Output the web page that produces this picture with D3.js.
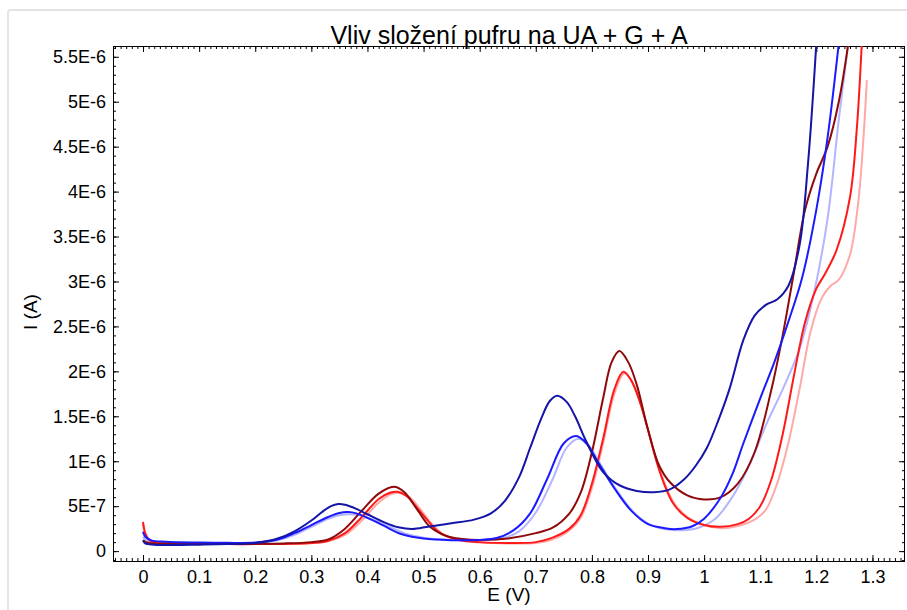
<!DOCTYPE html>
<html>
<head>
<meta charset="utf-8">
<script src="https://cdn.jsdelivr.net/npm/d3@7"></script>
<style>
  html, body { margin: 0; padding: 0; background: #fff; }
  svg { display: block; }
  text { font-family: "Liberation Sans", Arial, sans-serif; fill: #000; }
</style>
</head>
<body>
<svg id="chart" width="907" height="610"></svg>
<script>
// ---------- data (E in V, I in A) ----------
const chartTitle = "Vliv složení pufru na UA + G + A";
const xAxisTitle = "E (V)";
const yAxisTitle = "I (A)";

const xTickValues = [0, 0.1, 0.2, 0.3, 0.4, 0.5, 0.6, 0.7, 0.8, 0.9, 1, 1.1, 1.2, 1.3];
const xTickLabels = ["0", "0.1", "0.2", "0.3", "0.4", "0.5", "0.6", "0.7", "0.8", "0.9", "1", "1.1", "1.2", "1.3"];
const yTickValues = [0, 5e-7, 1e-6, 1.5e-6, 2e-6, 2.5e-6, 3e-6, 3.5e-6, 4e-6, 4.5e-6, 5e-6, 5.5e-6];
const yTickLabels = ["0", "5E-7", "1E-6", "1.5E-6", "2E-6", "2.5E-6", "3E-6", "3.5E-6", "4E-6", "4.5E-6", "5E-6", "5.5E-6"];

// currents below are in µA (×1e-6 A)
const pinkSeries = [[0,0.30],[0.005,0.17],[0.02,0.10],[0.05,0.085],[0.1,0.08],[0.15,0.078],[0.2,0.078],[0.25,0.08],[0.3,0.088],[0.33,0.11],[0.36,0.18],[0.39,0.34],[0.42,0.54],[0.44,0.63],[0.456,0.65],[0.475,0.60],[0.495,0.46],[0.515,0.30],[0.535,0.19],[0.56,0.125],[0.6,0.095],[0.65,0.085],[0.7,0.09],[0.73,0.13],[0.76,0.23],[0.78,0.37],[0.8,0.70],[0.82,1.20],[0.84,1.75],[0.858,1.98],[0.872,1.88],[0.888,1.62],[0.9,1.35],[0.92,0.92],[0.945,0.55],[0.97,0.38],[1.0,0.29],[1.03,0.255],[1.06,0.28],[1.09,0.35],[1.11,0.46],[1.13,0.75],[1.15,1.20],[1.17,1.80],[1.19,2.45],[1.21,2.82],[1.225,2.95],[1.24,3.02],[1.26,3.30],[1.275,3.90],[1.284,4.60],[1.29,5.24]];
const lightBlueSeries = [[0,0.16],[0.005,0.12],[0.02,0.09],[0.05,0.08],[0.1,0.08],[0.15,0.085],[0.2,0.09],[0.24,0.12],[0.27,0.18],[0.3,0.27],[0.33,0.36],[0.35,0.40],[0.37,0.41],[0.39,0.395],[0.41,0.35],[0.44,0.27],[0.47,0.19],[0.5,0.15],[0.55,0.125],[0.6,0.12],[0.64,0.14],[0.67,0.22],[0.7,0.43],[0.73,0.80],[0.755,1.15],[0.776,1.25],[0.795,1.17],[0.815,0.97],[0.845,0.67],[0.875,0.43],[0.905,0.29],[0.935,0.24],[0.96,0.232],[0.99,0.26],[1.02,0.36],[1.05,0.60],[1.08,0.95],[1.11,1.40],[1.14,1.80],[1.17,2.25],[1.195,2.85],[1.22,3.70],[1.24,4.80],[1.257,5.65]];
const redSeries = [[0,0.326],[0.004,0.20],[0.01,0.13],[0.02,0.10],[0.05,0.085],[0.1,0.08],[0.15,0.078],[0.2,0.078],[0.25,0.08],[0.3,0.09],[0.33,0.115],[0.36,0.20],[0.39,0.38],[0.42,0.58],[0.44,0.65],[0.454,0.66],[0.47,0.61],[0.49,0.47],[0.51,0.32],[0.53,0.20],[0.56,0.13],[0.6,0.10],[0.65,0.09],[0.7,0.10],[0.73,0.15],[0.76,0.25],[0.78,0.40],[0.8,0.75],[0.82,1.25],[0.84,1.80],[0.856,1.995],[0.87,1.90],[0.886,1.65],[0.9,1.35],[0.92,0.90],[0.945,0.53],[0.97,0.37],[1.0,0.29],[1.028,0.27],[1.06,0.30],[1.08,0.36],[1.1,0.50],[1.12,0.80],[1.14,1.30],[1.16,1.95],[1.18,2.55],[1.2,2.92],[1.215,3.08],[1.236,3.35],[1.26,3.94],[1.272,4.69],[1.281,5.65]];
const darkRedSeries = [[0,0.12],[0.005,0.10],[0.02,0.085],[0.05,0.08],[0.1,0.078],[0.15,0.078],[0.2,0.08],[0.25,0.085],[0.3,0.10],[0.33,0.13],[0.36,0.25],[0.39,0.45],[0.42,0.64],[0.447,0.716],[0.465,0.66],[0.49,0.45],[0.51,0.28],[0.54,0.17],[0.57,0.135],[0.6,0.125],[0.65,0.14],[0.7,0.20],[0.73,0.26],[0.76,0.42],[0.78,0.65],[0.8,1.10],[0.82,1.70],[0.835,2.10],[0.849,2.226],[0.865,2.10],[0.88,1.85],[0.9,1.35],[0.92,0.95],[0.94,0.76],[0.97,0.62],[1.0,0.575],[1.03,0.60],[1.06,0.75],[1.09,1.10],[1.12,1.80],[1.14,2.40],[1.16,3.10],[1.18,3.80],[1.2,4.20],[1.22,4.50],[1.24,5.00],[1.257,5.65]];
const blueSeries = [[0,0.215],[0.004,0.16],[0.015,0.12],[0.04,0.105],[0.1,0.095],[0.15,0.092],[0.2,0.095],[0.24,0.13],[0.27,0.20],[0.3,0.29],[0.33,0.38],[0.35,0.425],[0.366,0.434],[0.38,0.42],[0.4,0.37],[0.43,0.28],[0.46,0.19],[0.5,0.14],[0.55,0.122],[0.6,0.125],[0.63,0.145],[0.66,0.23],[0.69,0.42],[0.72,0.80],[0.75,1.20],[0.772,1.28],[0.79,1.20],[0.81,1.00],[0.84,0.70],[0.87,0.45],[0.9,0.30],[0.93,0.255],[0.951,0.245],[0.98,0.28],[1.0,0.36],[1.03,0.60],[1.05,0.85],[1.07,1.20],[1.1,1.70],[1.125,2.10],[1.15,2.55],[1.175,3.05],[1.2,3.80],[1.22,4.60],[1.24,5.65]];
const navySeries = [[0,0.12],[0.004,0.085],[0.02,0.072],[0.05,0.068],[0.1,0.072],[0.15,0.078],[0.2,0.09],[0.24,0.14],[0.27,0.22],[0.3,0.34],[0.32,0.44],[0.335,0.50],[0.348,0.523],[0.36,0.515],[0.38,0.47],[0.4,0.41],[0.43,0.32],[0.455,0.265],[0.48,0.245],[0.51,0.275],[0.55,0.31],[0.59,0.35],[0.62,0.42],[0.645,0.56],[0.67,0.82],[0.69,1.15],[0.71,1.48],[0.725,1.67],[0.738,1.728],[0.755,1.66],[0.77,1.50],[0.79,1.22],[0.82,0.88],[0.85,0.73],[0.88,0.67],[0.91,0.655],[0.94,0.69],[0.963,0.79],[0.985,0.95],[1.005,1.15],[1.025,1.45],[1.045,1.80],[1.07,2.35],[1.09,2.62],[1.11,2.74],[1.13,2.80],[1.15,2.95],[1.17,3.40],[1.185,4.30],[1.2,5.65]];

const seriesList = [
  { name: "pink",  data: pinkSeries,      color: "#ffa8a8" },
  { name: "lightblue", data: lightBlueSeries, color: "#b4b4ff" },
  { name: "red",   data: redSeries,       color: "#ff1a1a" },
  { name: "darkred", data: darkRedSeries, color: "#8e0a0a" },
  { name: "blue",  data: blueSeries,      color: "#1a1aff" },
  { name: "navy",  data: navySeries,      color: "#1414a8" }
];

// ---------- layout ----------
const svg = d3.select("#chart");
const L = 113, R = 905, T = 46, B = 561;

const x = d3.scaleLinear().domain([-0.0535, 1.358]).range([L, R]);
const y = d3.scaleLinear().domain([-1.1e-7, 5.62e-6]).range([B, T]);

// outer light frame
svg.append("rect")
  .attr("x", 8).attr("y", 10).attr("width", 920).attr("height", 620)
  .attr("rx", 3)
  .attr("fill", "none").attr("stroke", "#e4e4e4").attr("stroke-width", 2);

// clip
svg.append("defs").append("clipPath").attr("id", "plotclip")
  .append("rect").attr("x", L).attr("y", T).attr("width", R - L).attr("height", B - T);

// minor ticks
const xMinor = d3.range(-5, 136).map(i => i / 100).filter(v => x(v) > L && x(v) < R);
const yMinor = d3.range(-1, 57).map(i => i * 1e-7).filter(v => y(v) < B && y(v) > T);

const axesG = svg.append("g");

function minorAxis(axisFn, scale, values, size, tr) {
  const g = axesG.append("g").attr("transform", tr)
    .call(axisFn(scale).tickValues(values).tickSize(size).tickFormat(""));
  g.select(".domain").remove();
  g.selectAll("line").attr("stroke", "#000");
}
minorAxis(d3.axisBottom, x, xMinor, -3, `translate(0,${B})`);
minorAxis(d3.axisTop, x, xMinor, -3, `translate(0,${T})`);
minorAxis(d3.axisLeft, y, yMinor, -3, `translate(${L},0)`);
minorAxis(d3.axisRight, y, yMinor, -3, `translate(${R},0)`);

// major axes
const xAxisG = axesG.append("g").attr("transform", `translate(0,${B})`)
  .call(d3.axisBottom(x).tickValues(xTickValues).tickSize(-6).tickPadding(9)
    .tickFormat((d, i) => xTickLabels[i]));
const xTopG = axesG.append("g").attr("transform", `translate(0,${T})`)
  .call(d3.axisTop(x).tickValues(xTickValues).tickSize(-6).tickFormat(""));
const yAxisG = axesG.append("g").attr("transform", `translate(${L},0)`)
  .call(d3.axisLeft(y).tickValues(yTickValues).tickSize(-6).tickPadding(7)
    .tickFormat((d, i) => yTickLabels[i]));
const yRightG = axesG.append("g").attr("transform", `translate(${R},0)`)
  .call(d3.axisRight(y).tickValues(yTickValues).tickSize(-6).tickFormat(""));

[xAxisG, xTopG, yAxisG, yRightG].forEach(g => {
  g.select(".domain").remove();
  g.selectAll("line").attr("stroke", "#000");
  g.selectAll("text").attr("font-size", 18).attr("fill", "#000")
    .style("font-family", "'Liberation Sans', Arial, sans-serif");
});

// frame
svg.append("rect").attr("x", L + 0.5).attr("y", T + 0.5)
  .attr("width", R - L - 1).attr("height", B - T)
  .attr("fill", "none").attr("stroke", "#000").attr("stroke-width", 1);

// lines
const line = d3.line()
  .x(d => x(d[0]))
  .y(d => y(d[1] * 1e-6))
  .curve(d3.curveCatmullRom.alpha(0.5));

const linesG = svg.append("g").attr("clip-path", "url(#plotclip)");
seriesList.forEach(s => {
  linesG.append("path")
    .datum(s.data)
    .attr("d", line)
    .attr("fill", "none")
    .attr("stroke", s.color)
    .attr("stroke-width", 2)
    .attr("stroke-linejoin", "round");
});

// titles
svg.append("text")
  .attr("x", (L + R) / 2).attr("y", 44)
  .attr("text-anchor", "middle")
  .attr("font-size", 25)
  .text(chartTitle);

svg.append("text")
  .attr("x", (L + R) / 2).attr("y", 601)
  .attr("text-anchor", "middle")
  .attr("font-size", 19)
  .text(xAxisTitle);

svg.append("text")
  .attr("transform", `translate(37,312) rotate(-90)`)
  .attr("text-anchor", "middle")
  .attr("font-size", 19)
  .text(yAxisTitle);
</script>
</body>
</html>
